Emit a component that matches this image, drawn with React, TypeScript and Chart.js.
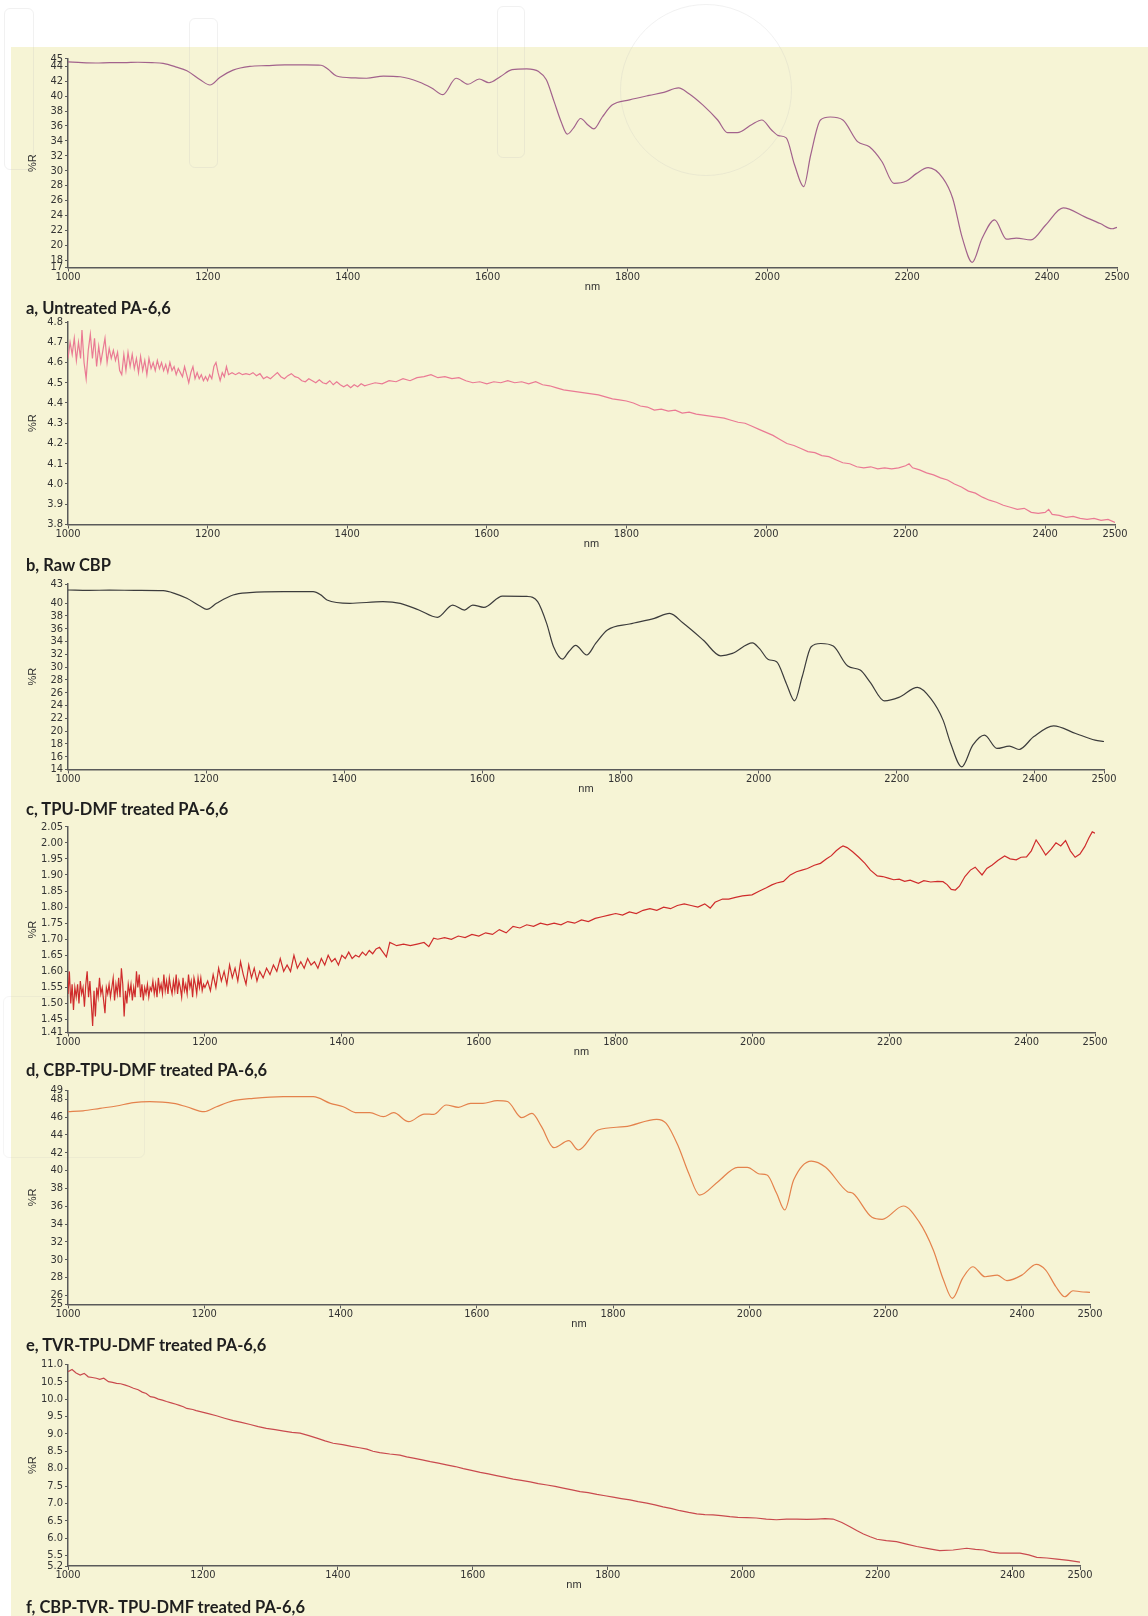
import React, { useEffect, useRef } from "react";
import { Chart, registerables } from "chart.js";

Chart.register(...registerables);

// ---------- DATA ----------
const wavelengthTicks = [1000, 1200, 1400, 1600, 1800, 2000, 2200, 2400, 2500];

const ticksA = [17, 18, 20, 22, 24, 26, 28, 30, 32, 34, 36, 38, 40, 42, 44, 45];
const ticksB = [3.8, 3.9, 4.0, 4.1, 4.2, 4.3, 4.4, 4.5, 4.6, 4.7, 4.8];
const ticksC = [14, 16, 18, 20, 22, 24, 26, 28, 30, 32, 34, 36, 38, 40, 43];
const ticksD = [1.41, 1.45, 1.5, 1.55, 1.6, 1.65, 1.7, 1.75, 1.8, 1.85, 1.9, 1.95, 2.0, 2.05];
const ticksE = [25, 26, 28, 30, 32, 34, 36, 38, 40, 42, 44, 46, 48, 49];
const ticksF = [5.2, 5.5, 6.0, 6.5, 7.0, 7.5, 8.0, 8.5, 9.0, 9.5, 10.0, 10.5, 11.0];

const captions = [
  "a, Untreated PA-6,6",
  "b, Raw CBP",
  "c, TPU-DMF treated PA-6,6",
  "d, CBP-TPU-DMF treated PA-6,6",
  "e, TVR-TPU-DMF treated PA-6,6",
  "f, CBP-TVR- TPU-DMF treated PA-6,6",
];

const untreatedPA: [number, number][] = [
  [1000, 44.6], [1020, 44.5], [1040, 44.45], [1060, 44.5], [1080, 44.5], [1100, 44.55], [1120, 44.5],
  [1136, 44.4], [1155, 43.9], [1170, 43.4], [1189, 42.2], [1203, 41.5], [1217, 42.5], [1236, 43.5],
  [1260, 44.0], [1284, 44.1], [1310, 44.2], [1340, 44.2], [1362, 44.15], [1372, 43.6], [1384, 42.7],
  [1410, 42.45], [1427, 42.4], [1451, 42.7], [1475, 42.6], [1502, 41.9], [1520, 41.1], [1536, 40.2],
  [1555, 42.4], [1572, 41.6], [1588, 42.3], [1602, 41.8], [1618, 42.6], [1635, 43.55], [1656, 43.65],
  [1673, 43.3], [1684, 42.2], [1695, 39.3], [1705, 36.6], [1714, 34.9], [1723, 35.75], [1733, 37.0],
  [1744, 36.1], [1752, 35.6], [1764, 37.2], [1778, 38.8], [1803, 39.5], [1831, 40.1], [1852, 40.5],
  [1873, 41.1], [1887, 40.4], [1908, 38.8], [1929, 36.8], [1943, 35.1], [1957, 35.1], [1978, 36.2],
  [1992, 36.8], [2006, 35.45], [2016, 34.7], [2027, 34.4], [2039, 30.75], [2052, 27.85], [2062, 32.1],
  [2076, 36.8], [2090, 37.2], [2108, 36.8], [2129, 33.9], [2146, 33.2], [2164, 31.2], [2181, 28.3],
  [2199, 28.6], [2213, 29.6], [2230, 30.4], [2251, 29.0], [2265, 26.3], [2279, 20.9], [2293, 17.7],
  [2307, 20.9], [2325, 23.4], [2342, 20.8], [2356, 20.95], [2377, 20.7], [2398, 22.7], [2423, 25.0],
  [2454, 23.8], [2476, 22.9], [2493, 22.2], [2500, 22.4],
];

const rawCBP: [number, number][] = [
  [1000, 4.62], [1003, 4.7], [1006, 4.64], [1009, 4.72], [1012, 4.61], [1015, 4.7], [1018, 4.62], [1020, 4.76],
  [1023, 4.6], [1026, 4.52], [1029, 4.66], [1032, 4.74], [1035, 4.62], [1038, 4.72], [1041, 4.58], [1044, 4.68],
  [1047, 4.6], [1050, 4.66], [1053, 4.72], [1056, 4.6], [1059, 4.67], [1062, 4.62], [1065, 4.66], [1068, 4.61],
  [1071, 4.65], [1074, 4.56], [1077, 4.54], [1080, 4.64], [1083, 4.56], [1086, 4.65], [1089, 4.58], [1092, 4.64],
  [1095, 4.57], [1098, 4.62], [1101, 4.55], [1104, 4.63], [1107, 4.56], [1110, 4.61], [1113, 4.54], [1116, 4.62],
  [1119, 4.57], [1122, 4.6], [1125, 4.56], [1128, 4.61], [1131, 4.57], [1134, 4.6], [1137, 4.56], [1140, 4.59],
  [1143, 4.55], [1146, 4.6], [1149, 4.56], [1152, 4.58], [1155, 4.54], [1158, 4.57], [1161, 4.55], [1164, 4.53],
  [1167, 4.58], [1170, 4.54], [1173, 4.5], [1176, 4.55], [1179, 4.58], [1182, 4.52], [1185, 4.55], [1188, 4.52],
  [1191, 4.54], [1194, 4.51], [1197, 4.53], [1200, 4.51], [1203, 4.54], [1206, 4.52], [1209, 4.58], [1212, 4.6],
  [1215, 4.55], [1218, 4.51], [1221, 4.55], [1224, 4.53], [1227, 4.58], [1230, 4.54], [1235, 4.55], [1240, 4.54],
  [1245, 4.55], [1250, 4.54], [1255, 4.545], [1260, 4.54], [1265, 4.55], [1270, 4.535], [1275, 4.545], [1280, 4.52],
  [1285, 4.53], [1290, 4.52], [1295, 4.535], [1300, 4.55], [1305, 4.53], [1310, 4.52], [1315, 4.535], [1320, 4.545],
  [1325, 4.53], [1330, 4.525], [1335, 4.51], [1340, 4.505], [1345, 4.52], [1350, 4.51], [1355, 4.5], [1360, 4.515],
  [1365, 4.5], [1370, 4.495], [1375, 4.51], [1380, 4.49], [1385, 4.505], [1390, 4.49], [1395, 4.48], [1400, 4.49],
  [1405, 4.475], [1410, 4.49], [1415, 4.48], [1420, 4.495], [1425, 4.485], [1430, 4.49], [1440, 4.5], [1450, 4.495],
  [1460, 4.51], [1470, 4.505], [1480, 4.52], [1490, 4.51], [1500, 4.525], [1510, 4.53], [1520, 4.54], [1530, 4.525],
  [1540, 4.53], [1550, 4.52], [1560, 4.525], [1570, 4.51], [1580, 4.5], [1590, 4.505], [1600, 4.495], [1610, 4.505],
  [1620, 4.5], [1630, 4.51], [1640, 4.5], [1650, 4.505], [1660, 4.495], [1670, 4.505], [1680, 4.49], [1690, 4.485],
  [1700, 4.475], [1710, 4.465], [1720, 4.46], [1730, 4.455], [1740, 4.45], [1750, 4.445], [1760, 4.44], [1770, 4.43],
  [1780, 4.42], [1790, 4.415], [1800, 4.41], [1810, 4.4], [1820, 4.385], [1830, 4.38], [1840, 4.365], [1850, 4.37],
  [1860, 4.36], [1870, 4.365], [1880, 4.35], [1890, 4.355], [1900, 4.345], [1910, 4.34], [1920, 4.335], [1930, 4.33],
  [1940, 4.325], [1950, 4.315], [1960, 4.305], [1970, 4.3], [1980, 4.285], [1990, 4.27], [2000, 4.255], [2010, 4.24],
  [2020, 4.22], [2030, 4.2], [2040, 4.19], [2050, 4.175], [2060, 4.16], [2070, 4.155], [2080, 4.14], [2090, 4.135],
  [2100, 4.12], [2110, 4.105], [2120, 4.1], [2130, 4.085], [2140, 4.08], [2150, 4.085], [2160, 4.075], [2170, 4.08],
  [2180, 4.075], [2190, 4.08], [2200, 4.09], [2205, 4.1], [2210, 4.08], [2220, 4.07], [2230, 4.055], [2240, 4.045],
  [2250, 4.03], [2260, 4.02], [2270, 4.0], [2280, 3.985], [2290, 3.965], [2300, 3.955], [2310, 3.935], [2320, 3.92],
  [2330, 3.91], [2340, 3.895], [2350, 3.885], [2360, 3.875], [2370, 3.88], [2380, 3.86], [2390, 3.855], [2400, 3.86],
  [2405, 3.875], [2410, 3.85], [2420, 3.845], [2430, 3.835], [2440, 3.84], [2450, 3.83], [2460, 3.825], [2470, 3.83],
  [2480, 3.82], [2490, 3.825], [2500, 3.81],
];

const tpuDmfPA: [number, number][] = [
  [1000, 42.06], [1030, 42.0], [1060, 42.05], [1100, 42.0], [1138, 41.95], [1155, 41.5], [1172, 40.76],
  [1191, 39.56], [1201, 39.04], [1215, 39.98], [1239, 41.28], [1263, 41.64], [1312, 41.8], [1355, 41.8],
  [1366, 41.3], [1375, 40.5], [1408, 39.98], [1456, 40.24], [1481, 39.98], [1508, 38.93], [1535, 37.79],
  [1557, 39.71], [1574, 38.93], [1586, 39.71], [1602, 39.35], [1629, 41.12], [1665, 41.05], [1680, 40.24],
  [1693, 36.85], [1703, 33.19], [1716, 31.26], [1725, 32.41], [1735, 33.4], [1751, 31.9], [1764, 33.7],
  [1781, 35.8], [1813, 36.74], [1849, 37.63], [1871, 38.4], [1891, 36.85], [1920, 34.2], [1945, 31.77],
  [1962, 32.15], [1991, 33.81], [2001, 32.93], [2014, 31.2], [2026, 30.84], [2040, 27.46], [2052, 24.74],
  [2063, 28.5], [2076, 33.19], [2090, 33.7], [2108, 33.3], [2129, 30.17], [2147, 29.54], [2161, 27.71],
  [2182, 24.74], [2203, 25.27], [2230, 26.83], [2249, 25.11], [2267, 21.72], [2278, 18.07], [2294, 14.41],
  [2310, 17.8], [2327, 19.37], [2345, 17.29], [2363, 17.65], [2377, 17.13], [2398, 19.11], [2427, 20.83],
  [2459, 19.63], [2487, 18.59], [2500, 18.38],
];

const cbpTpuDmfPA: [number, number][] = [
  [1000, 1.53], [1002, 1.6], [1004, 1.5], [1006, 1.56], [1008, 1.48], [1010, 1.55], [1012, 1.52], [1014, 1.56],
  [1016, 1.5], [1018, 1.57], [1020, 1.53], [1022, 1.55], [1024, 1.49], [1026, 1.56], [1028, 1.6], [1030, 1.52],
  [1032, 1.57], [1034, 1.5], [1036, 1.43], [1038, 1.54], [1040, 1.46], [1042, 1.55], [1044, 1.52], [1046, 1.58],
  [1048, 1.53], [1050, 1.55], [1052, 1.51], [1054, 1.47], [1056, 1.55], [1058, 1.53], [1060, 1.56], [1062, 1.52],
  [1064, 1.55], [1066, 1.58], [1068, 1.51], [1070, 1.56], [1072, 1.53], [1074, 1.58], [1076, 1.52], [1078, 1.61],
  [1080, 1.56], [1082, 1.46], [1084, 1.54], [1086, 1.5], [1088, 1.56], [1090, 1.53], [1092, 1.56], [1094, 1.51],
  [1096, 1.55], [1098, 1.52], [1100, 1.6], [1102, 1.55], [1104, 1.59], [1106, 1.52], [1108, 1.56], [1110, 1.51],
  [1112, 1.55], [1114, 1.53], [1116, 1.56], [1118, 1.52], [1120, 1.55], [1122, 1.54], [1124, 1.57], [1126, 1.53],
  [1128, 1.56], [1130, 1.52], [1132, 1.58], [1134, 1.54], [1136, 1.56], [1138, 1.53], [1140, 1.59], [1142, 1.54],
  [1144, 1.57], [1146, 1.53], [1148, 1.58], [1150, 1.55], [1152, 1.53], [1154, 1.57], [1156, 1.54], [1158, 1.59],
  [1160, 1.53], [1162, 1.57], [1164, 1.55], [1166, 1.52], [1168, 1.58], [1170, 1.54], [1172, 1.56], [1174, 1.53],
  [1176, 1.59], [1178, 1.55], [1180, 1.57], [1182, 1.52], [1184, 1.58], [1186, 1.56], [1188, 1.53], [1190, 1.58],
  [1192, 1.55], [1194, 1.58], [1196, 1.54], [1198, 1.56], [1200, 1.55], [1204, 1.57], [1208, 1.54], [1212, 1.59],
  [1216, 1.55], [1220, 1.61], [1224, 1.57], [1228, 1.6], [1232, 1.56], [1236, 1.62], [1240, 1.58], [1244, 1.61],
  [1248, 1.57], [1252, 1.63], [1256, 1.59], [1260, 1.56], [1264, 1.62], [1268, 1.58], [1272, 1.61], [1276, 1.57],
  [1280, 1.6], [1285, 1.58], [1290, 1.61], [1295, 1.59], [1300, 1.62], [1305, 1.6], [1310, 1.64], [1315, 1.6],
  [1320, 1.62], [1325, 1.6], [1330, 1.65], [1335, 1.61], [1340, 1.63], [1345, 1.61], [1350, 1.64], [1355, 1.62],
  [1360, 1.63], [1365, 1.61], [1370, 1.64], [1375, 1.62], [1380, 1.65], [1385, 1.63], [1390, 1.64], [1395, 1.62],
  [1400, 1.65], [1405, 1.64], [1410, 1.66], [1415, 1.64], [1420, 1.65], [1425, 1.645], [1430, 1.66], [1435, 1.65],
  [1440, 1.665], [1445, 1.655], [1450, 1.67], [1455, 1.675], [1460, 1.66], [1465, 1.645], [1470, 1.69], [1475, 1.685],
  [1480, 1.68], [1490, 1.685], [1500, 1.68], [1510, 1.685], [1520, 1.69], [1527, 1.677], [1534, 1.703], [1540, 1.7],
  [1550, 1.705], [1560, 1.7], [1570, 1.71], [1580, 1.705], [1590, 1.715], [1600, 1.71], [1610, 1.72], [1620, 1.715],
  [1630, 1.73], [1640, 1.72], [1650, 1.74], [1660, 1.735], [1670, 1.745], [1680, 1.74], [1690, 1.75], [1700, 1.745],
  [1710, 1.75], [1720, 1.745], [1730, 1.755], [1740, 1.75], [1750, 1.76], [1760, 1.755], [1770, 1.765], [1780, 1.77],
  [1790, 1.775], [1800, 1.78], [1810, 1.775], [1820, 1.785], [1830, 1.78], [1840, 1.79], [1850, 1.795], [1860, 1.79],
  [1870, 1.8], [1880, 1.795], [1890, 1.805], [1900, 1.81], [1910, 1.805], [1920, 1.8], [1930, 1.81], [1938, 1.797],
  [1945, 1.815], [1956, 1.825], [1965, 1.825], [1975, 1.83], [1985, 1.835], [1999, 1.838], [2010, 1.85], [2020, 1.86],
  [2028, 1.869], [2035, 1.875], [2045, 1.88], [2055, 1.9], [2064, 1.91], [2072, 1.915], [2080, 1.92], [2090, 1.93],
  [2099, 1.936], [2108, 1.95], [2115, 1.96], [2122, 1.975], [2128, 1.985], [2132, 1.99], [2138, 1.985], [2146, 1.972],
  [2155, 1.955], [2164, 1.936], [2172, 1.915], [2182, 1.897], [2190, 1.895], [2198, 1.89], [2206, 1.885], [2214, 1.887],
  [2222, 1.88], [2230, 1.884], [2242, 1.874], [2250, 1.882], [2260, 1.878], [2270, 1.88], [2278, 1.879], [2284, 1.87],
  [2290, 1.855], [2296, 1.853], [2302, 1.865], [2310, 1.895], [2318, 1.915], [2325, 1.924], [2335, 1.9], [2342, 1.92],
  [2350, 1.931], [2358, 1.945], [2368, 1.959], [2376, 1.95], [2385, 1.947], [2392, 1.955], [2400, 1.956], [2407, 1.975],
  [2414, 2.009], [2420, 1.99], [2428, 1.962], [2436, 1.98], [2443, 2.0], [2450, 1.99], [2457, 2.007], [2464, 1.975],
  [2471, 1.955], [2478, 1.965], [2485, 1.988], [2491, 2.015], [2496, 2.034], [2500, 2.03],
];

const tvrTpuDmfPA: [number, number][] = [
  [1000, 46.6], [1022, 46.7], [1047, 46.98], [1071, 47.24], [1096, 47.61], [1120, 47.72], [1155, 47.53],
  [1174, 47.16], [1200, 46.6], [1218, 47.16], [1243, 47.84], [1272, 48.1], [1316, 48.28], [1360, 48.28],
  [1385, 47.54], [1404, 47.16], [1424, 46.49], [1443, 46.49], [1463, 46.04], [1478, 46.49], [1500, 45.48],
  [1523, 46.34], [1537, 46.3], [1555, 47.35], [1573, 47.09], [1591, 47.54], [1609, 47.54], [1630, 47.84],
  [1645, 47.74], [1666, 45.93], [1681, 46.42], [1695, 44.92], [1713, 42.57], [1735, 43.35], [1749, 42.31],
  [1778, 44.55], [1817, 44.92], [1864, 45.75], [1878, 45.3], [1896, 42.68], [1911, 39.7], [1927, 37.26],
  [1954, 38.76], [1983, 40.37], [1997, 40.37], [2015, 39.62], [2026, 39.5], [2040, 37.45], [2052, 35.58],
  [2065, 38.94], [2091, 41.07], [2112, 40.37], [2144, 37.64], [2152, 37.45], [2180, 34.76], [2195, 34.54],
  [2226, 36.03], [2249, 34.27], [2270, 31.1], [2285, 27.73], [2298, 25.68], [2313, 27.92], [2328, 29.22],
  [2346, 28.1], [2364, 28.28], [2378, 27.66], [2400, 28.28], [2421, 29.49], [2435, 28.85], [2450, 26.98],
  [2463, 25.86], [2475, 26.53], [2486, 26.42], [2500, 26.35],
];

const cbpTvrTpuDmfPA: [number, number][] = [
  [1000, 10.79], [1006, 10.85], [1012, 10.75], [1018, 10.69], [1024, 10.74], [1030, 10.64], [1036, 10.62],
  [1042, 10.6], [1047, 10.57], [1053, 10.6], [1060, 10.5], [1066, 10.48], [1072, 10.45], [1078, 10.44],
  [1085, 10.4], [1091, 10.36], [1097, 10.31], [1104, 10.27], [1110, 10.2], [1116, 10.16], [1122, 10.07],
  [1128, 10.05], [1134, 10.0], [1140, 9.97], [1146, 9.93], [1153, 9.89], [1160, 9.85], [1165, 9.82],
  [1171, 9.78], [1176, 9.73], [1185, 9.7], [1190, 9.67], [1196, 9.64], [1208, 9.58], [1220, 9.52],
  [1232, 9.45], [1245, 9.38], [1257, 9.33], [1270, 9.27], [1282, 9.21], [1294, 9.16], [1307, 9.12],
  [1320, 9.08], [1332, 9.04], [1344, 9.02], [1357, 8.95], [1370, 8.87], [1381, 8.8], [1393, 8.73],
  [1407, 8.69], [1420, 8.64], [1432, 8.6], [1443, 8.56], [1452, 8.5], [1462, 8.46], [1477, 8.42],
  [1492, 8.39], [1502, 8.34], [1512, 8.3], [1525, 8.25], [1537, 8.2], [1549, 8.16], [1561, 8.11],
  [1574, 8.06], [1586, 8.0], [1598, 7.95], [1611, 7.89], [1623, 7.85], [1635, 7.8], [1648, 7.75],
  [1660, 7.7], [1672, 7.66], [1685, 7.62], [1697, 7.57], [1710, 7.53], [1722, 7.49], [1734, 7.44],
  [1747, 7.39], [1759, 7.34], [1771, 7.31], [1784, 7.26], [1796, 7.22], [1808, 7.18], [1820, 7.14],
  [1833, 7.1], [1845, 7.05], [1858, 7.01], [1870, 6.96], [1882, 6.9], [1895, 6.85], [1907, 6.79],
  [1920, 6.74], [1932, 6.7], [1944, 6.68], [1956, 6.67], [1968, 6.65], [1981, 6.62], [1993, 6.6],
  [2006, 6.59], [2020, 6.58], [2035, 6.55], [2050, 6.53], [2065, 6.55], [2080, 6.55], [2095, 6.54],
  [2110, 6.55], [2122, 6.56], [2134, 6.55], [2147, 6.45], [2159, 6.33], [2169, 6.22], [2179, 6.12],
  [2189, 6.04], [2199, 5.97], [2213, 5.93], [2228, 5.9], [2243, 5.83], [2258, 5.76], [2275, 5.7],
  [2292, 5.64], [2312, 5.66], [2332, 5.71], [2345, 5.68], [2357, 5.66], [2369, 5.6], [2381, 5.57],
  [2396, 5.57], [2411, 5.57], [2424, 5.52], [2436, 5.45], [2451, 5.43], [2466, 5.4], [2483, 5.36],
  [2500, 5.31],
];

// ---------- LAYOUT / STYLE ----------
type PanelCfg = {
  data: [number, number][];
  ticks: number[];
  min: number;
  max: number;
  decimals: number;
  color: string;
  smooth: boolean;
  top: number;
  bottom: number;
  right: number;
  caption: string;
  captionY: number;
};

const panels: PanelCfg[] = [
  { data: untreatedPA, ticks: ticksA, min: 17, max: 45, decimals: 0, color: "#a2628c", smooth: true, top: 58.9, bottom: 267.5, right: 1117, caption: captions[0], captionY: 308 },
  { data: rawCBP, ticks: ticksB, min: 3.8, max: 4.8, decimals: 1, color: "#ea7a94", smooth: false, top: 322, bottom: 524.5, right: 1115, caption: captions[1], captionY: 565 },
  { data: tpuDmfPA, ticks: ticksC, min: 14, max: 43, decimals: 0, color: "#3c3c3c", smooth: true, top: 584, bottom: 769.5, right: 1104, caption: captions[2], captionY: 809 },
  { data: cbpTpuDmfPA, ticks: ticksD, min: 1.41, max: 2.05, decimals: 2, color: "#cf2c2c", smooth: false, top: 826.7, bottom: 1032.5, right: 1095, caption: captions[3], captionY: 1070 },
  { data: tvrTpuDmfPA, ticks: ticksE, min: 25, max: 49, decimals: 0, color: "#e4824c", smooth: true, top: 1090.3, bottom: 1304.4, right: 1090, caption: captions[4], captionY: 1345 },
  { data: cbpTvrTpuDmfPA, ticks: ticksF, min: 5.2, max: 11.0, decimals: 1, color: "#c94a4e", smooth: false, top: 1364.3, bottom: 1566, right: 1080, caption: captions[5], captionY: 1607 },
];

const PAGE_W = 1148;
const PLOT_LEFT = 68;
const X_AXIS_H = 36;
const TOP_PAD = 12;
const AXIS_COLOR = "#5a5a5a";
const TEXT_COLOR = "#333333";
const TICK_FONT = { family: "'Liberation Sans Narrow', 'DejaVu Sans Condensed', 'Liberation Sans', Arial, sans-serif", size: 11, lineHeight: 1 };
const TITLE_FONT = { family: "'Liberation Sans', Arial, sans-serif", size: 11, lineHeight: 1.2 };

function SpectrumPanel({ cfg }: { cfg: PanelCfg }) {
  const ref = useRef<HTMLCanvasElement | null>(null);
  const canvasTop = Math.floor(cfg.top) - TOP_PAD;
  const canvasH = Math.ceil(cfg.bottom - canvasTop + X_AXIS_H);

  useEffect(() => {
    if (!ref.current) return;
    const chart = new Chart(ref.current, {
      type: "line",
      data: {
        datasets: [
          {
            data: cfg.data.map(([x, y]) => ({ x, y })),
            borderColor: cfg.color,
            borderWidth: 1.2,
            pointRadius: 0,
            fill: false,
            tension: cfg.smooth ? 0.4 : 0,
            cubicInterpolationMode: cfg.smooth ? "monotone" : "default",
          },
        ],
      },
      options: {
        animation: false,
        responsive: false,
        maintainAspectRatio: false,
        events: [],
        layout: {
          padding: {
            left: 0,
            right: PAGE_W - cfg.right,
            top: cfg.top - canvasTop,
            bottom: canvasH - (cfg.bottom - canvasTop) - X_AXIS_H,
          },
        },
        plugins: { legend: { display: false }, tooltip: { enabled: false } },
        scales: {
          x: {
            type: "linear",
            min: 1000,
            max: 2500,
            afterBuildTicks: (s: any) => {
              s.ticks = wavelengthTicks.map((v) => ({ value: v }));
            },
            afterFit: (s: any) => {
              s.height = X_AXIS_H;
            },
            ticks: {
              autoSkip: false,
              maxRotation: 0,
              minRotation: 0,
              padding: 0,
              color: TEXT_COLOR,
              font: TICK_FONT,
              callback: (v: any) => String(v),
            },
            grid: { drawOnChartArea: false, drawTicks: true, tickLength: 4, color: AXIS_COLOR, lineWidth: 1 },
            border: { display: true, color: AXIS_COLOR, width: 1.5 },
            title: { display: true, text: "nm", color: TEXT_COLOR, font: TITLE_FONT, padding: { top: 0, bottom: 10 } },
          },
          y: {
            type: "linear",
            min: cfg.min,
            max: cfg.max,
            afterBuildTicks: (s: any) => {
              s.ticks = cfg.ticks.map((v) => ({ value: v }));
            },
            afterFit: (s: any) => {
              s.width = PLOT_LEFT;
            },
            ticks: {
              autoSkip: false,
              padding: 2,
              color: TEXT_COLOR,
              font: TICK_FONT,
              callback: (v: any) => Number(v).toFixed(cfg.decimals),
            },
            grid: { drawOnChartArea: false, drawTicks: true, tickLength: 3, color: AXIS_COLOR, lineWidth: 1 },
            border: { display: true, color: AXIS_COLOR, width: 1.5 },
            title: { display: true, text: "%R", color: TEXT_COLOR, font: TITLE_FONT, padding: { top: 26, bottom: 0 } },
          },
        },
      } as any,
    });
    return () => chart.destroy();
  }, [cfg]);

  return (
    <>
      <canvas
        ref={ref}
        width={PAGE_W}
        height={canvasH}
        style={{ position: "absolute", left: 0, top: canvasTop, width: PAGE_W, height: canvasH }}
      />
      <div
        style={{
          position: "absolute",
          left: 26,
          top: cfg.captionY - 11,
          height: 22,
          lineHeight: "22px",
          fontFamily: "Lato, 'Open Sans', sans-serif",
          fontWeight: 700,
          fontSize: 16.5,
          color: "#1e1e1e",
          whiteSpace: "nowrap",
        }}
      >
        {cfg.caption}
      </div>
    </>
  );
}

const wm: React.CSSProperties = {
  position: "absolute",
  border: "1.5px solid rgba(190,190,190,0.22)",
  borderRadius: 6,
  pointerEvents: "none",
};

export default function App() {
  return (
    <div style={{ position: "absolute", left: 0, top: 0, width: PAGE_W, height: 1616, background: "#ffffff", overflow: "hidden" }}>
      <div style={{ position: "absolute", left: 11, top: 47, width: PAGE_W - 11, height: 1616 - 47, background: "#f6f4d5" }} />
      <div style={{ ...wm, left: 4, top: 8, width: 28, height: 160 }} />
      <div style={{ ...wm, left: 189, top: 18, width: 27, height: 148 }} />
      <div style={{ ...wm, left: 497, top: 6, width: 26, height: 150 }} />
      <div style={{ ...wm, left: 620, top: 4, width: 170, height: 170, borderRadius: "50%" }} />
      <div style={{ ...wm, left: 3, top: 996, width: 140, height: 160, border: "1.5px solid rgba(190,190,190,0.15)" }} />
      {panels.map((p, i) => (
        <SpectrumPanel key={i} cfg={p} />
      ))}
    </div>
  );
}
